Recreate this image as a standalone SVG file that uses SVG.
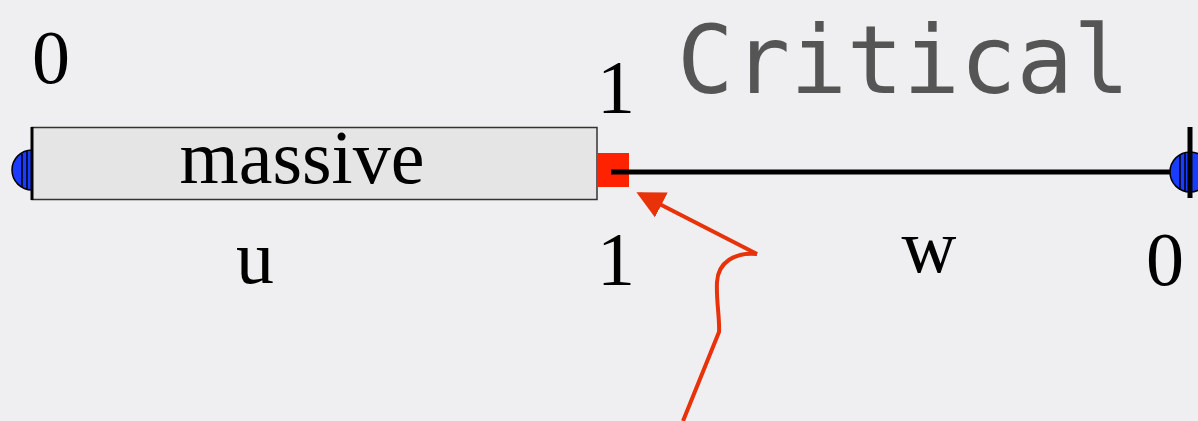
<svg xmlns="http://www.w3.org/2000/svg" width="1198" height="421" viewBox="0 0 1198 421">
<style>
.t{font-family:"Liberation Serif","Times New Roman",serif;font-size:76px;fill:#000;text-anchor:middle}
.title{font-family:"DejaVu Sans Mono","Liberation Mono",monospace;font-size:94px;fill:#555}
.cap{fill:#1a3cff;stroke:#000;stroke-width:1.5}
</style>
<defs>
<marker id="ah" markerWidth="7" markerHeight="7" refX="6" refY="3.5" orient="auto" markerUnits="strokeWidth">
<path d="M0,0 L7,3.5 L0,7 Z" fill="#e8320a"/>
</marker>
</defs>
<rect width="1198" height="421" fill="#efeff1"/>
<text class="title" x="677" y="93">Critical</text>
<g id="left-end">
<path class="cap" d="M32,150 A20,20 0 0 0 32,190 Z"/>
<line x1="22" y1="154" x2="22" y2="187" stroke="#000" stroke-width="1.5"/>
<line x1="27" y1="151" x2="27" y2="189" stroke="#000" stroke-width="1.5"/>
</g>
<g id="massive">
<rect x="32" y="127.5" width="565" height="72" fill="#e5e5e5" stroke="#333" stroke-width="1.5"/>
<line x1="32" y1="127" x2="32" y2="200" stroke="#000" stroke-width="3"/>
<text class="t" x="302" y="183">massive</text>
</g>
<g id="connectors">
<line x1="611" y1="172" x2="1190" y2="172" stroke="#000" stroke-width="5"/>
<path d="M757,254 L640,194" fill="none" stroke="#e8320a" stroke-width="4" marker-end="url(#ah)"/>
<path d="M757,254 C735,252 718,262 717,282 C716,300 720,320 719,332 L683,421" fill="none" stroke="#e8320a" stroke-width="4"/>
</g>
<g id="junction">
<rect x="597" y="153" width="32" height="34" fill="#ff2200"/>
<line x1="611" y1="172" x2="629" y2="172" stroke="#000" stroke-width="5"/>
</g>
<g id="right-end">
<circle class="cap" cx="1190" cy="172" r="20"/>
<line x1="1180" y1="155" x2="1180" y2="190" stroke="#000" stroke-width="1.5"/>
<line x1="1185" y1="153" x2="1185" y2="191" stroke="#000" stroke-width="1.5"/>
<line x1="1190" y1="127" x2="1190" y2="198" stroke="#000" stroke-width="5"/>
</g>
<g id="labels">
<text class="t" x="51" y="83">0</text>
<text class="t" x="616" y="113">1</text>
<text class="t" x="255" y="283">u</text>
<text class="t" x="616" y="285">1</text>
<text class="t" x="929" y="272">w</text>
<text class="t" x="1165" y="285">0</text>
</g>
</svg>
